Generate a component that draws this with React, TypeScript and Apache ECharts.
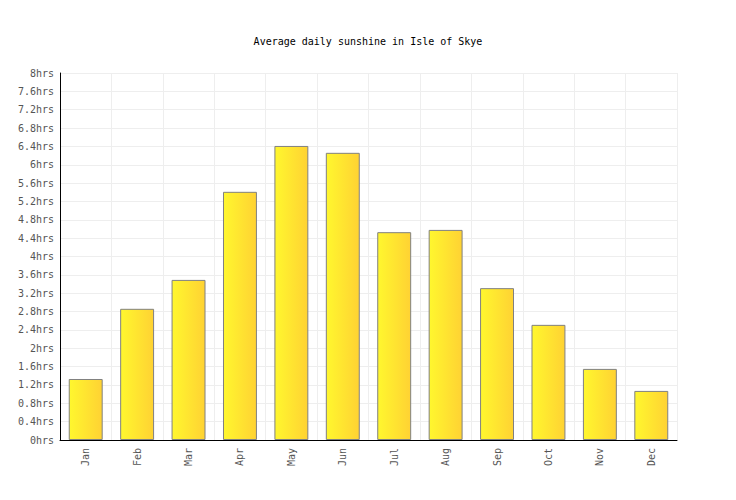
import React, { useEffect, useRef } from "react";
import * as echarts from "echarts";

const months = ["Jan", "Feb", "Mar", "Apr", "May", "Jun", "Jul", "Aug", "Sep", "Oct", "Nov", "Dec"];
const sunshineHours = [1.33, 2.86, 3.49, 5.41, 6.41, 6.26, 4.53, 4.58, 3.31, 2.51, 1.55, 1.07];

const MONO = "'DejaVu Sans Mono', monospace";

const App: React.FC = () => {
  const chartRef = useRef<HTMLDivElement>(null);

  useEffect(() => {
    if (!chartRef.current) return;
    const chart = echarts.init(chartRef.current, undefined, { renderer: "svg" });

    const option: echarts.EChartsOption = {
      animation: false,
      backgroundColor: "#fff",
      title: {
        text: "Average daily sunshine in Isle of Skye",
        left: "center",
        top: 31,
        textStyle: {
          fontFamily: MONO,
          fontSize: 10,
          fontWeight: "normal",
          color: "#000",
        },
      },
      grid: {
        left: 60,
        right: 59,
        top: 73,
        bottom: 60,
      },
      xAxis: {
        type: "category",
        data: months,
        axisLine: { lineStyle: { color: "#000", width: 1 } },
        axisTick: { show: false },
        axisLabel: {
          rotate: 90,
          margin: 8,
          interval: 0,
          fontFamily: MONO,
          fontSize: 10,
          color: "#555",
        },
        splitLine: { show: true, interval: 0, lineStyle: { color: "#eeeeee", width: 1 } },
      },
      yAxis: {
        type: "value",
        min: 0,
        max: 8,
        interval: 0.4,
        axisLine: { show: true, lineStyle: { color: "#000", width: 1 } },
        axisTick: { show: false },
        axisLabel: {
          margin: 6,
          fontFamily: MONO,
          fontSize: 10,
          color: "#555",
          formatter: (v: number) => `${parseFloat(v.toFixed(1))}hrs`,
        },
        splitLine: { show: true, lineStyle: { color: "#eeeeee", width: 1 } },
      },
      series: [
        {
          type: "bar",
          data: sunshineHours,
          barWidth: "66%",
          itemStyle: {
            color: new echarts.graphic.LinearGradient(0, 0, 1, 0, [
              { offset: 0, color: "#fff72e" },
              { offset: 1, color: "#ffd233" },
            ]),
            borderColor: "#808080",
            borderWidth: 1,
          },
        },
      ],
    };

    chart.setOption(option);

    return () => {
      chart.dispose();
    };
  }, []);

  return <div ref={chartRef} style={{ width: "736px", height: "500px", margin: "-8px" }} />;
};

export default App;
